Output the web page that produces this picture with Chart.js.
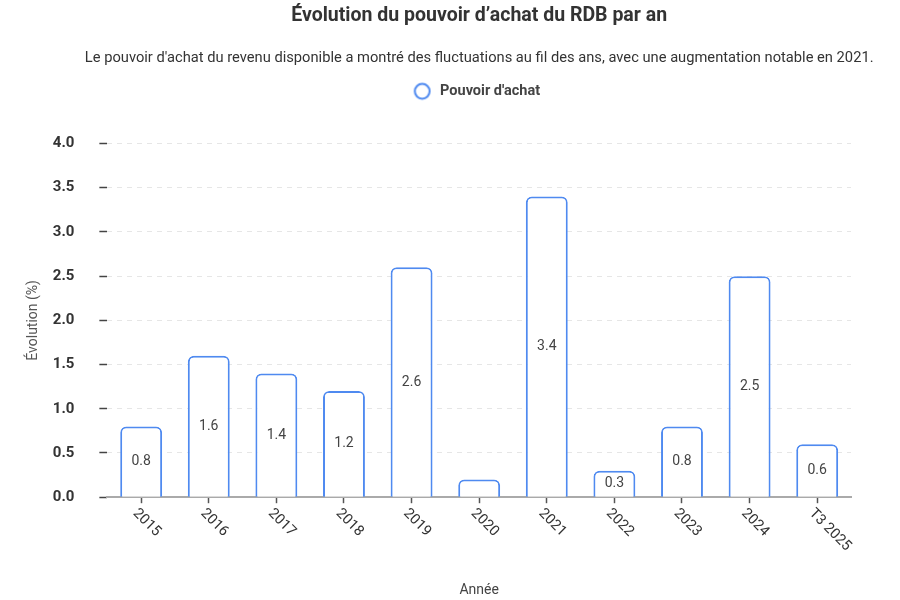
<!DOCTYPE html>
<html>
<head>
<meta charset="utf-8">
<script src="https://cdn.jsdelivr.net/npm/chart.js@4.4.1/dist/chart.umd.min.js"></script>
<style>
  html, body { margin: 0; padding: 0; background: #fff; }
  #wrap { width: 900px; height: 600px; }
</style>
</head>
<body>
<div id="wrap"><canvas id="rdbChart"></canvas></div>
<script>
const years = ['2015', '2016', '2017', '2018', '2019', '2020', '2021', '2022', '2023', '2024', 'T3 2025'];
const pouvoirAchat = [0.8, 1.6, 1.4, 1.2, 2.6, 0.2, 3.4, 0.3, 0.8, 2.5, 0.6];
const yTicks = [0, 0.5, 1, 1.5, 2, 2.5, 3, 3.5, 4];

const TITLE = 'Évolution du pouvoir d’achat du RDB par an';
const SUBTITLE = "Le pouvoir d'achat du revenu disponible a montré des fluctuations au fil des ans, avec une augmentation notable en 2021.";

const BLUE = '#4f8af0';
const TEXT = '#333';

// legend marker: hollow circle, drawn a little left of centre for a wider gap before the text
const legendDot = document.createElement('canvas');
legendDot.width = 30;
legendDot.height = 20;
(() => {
    const c = legendDot.getContext('2d');
    c.strokeStyle = BLUE;
    c.lineWidth = 2;
    c.fillStyle = '#fff';
    c.beginPath();
    c.arc(11.6, 10, 7.4, 0, Math.PI * 2);
    c.fill();
    c.stroke();
})();

// space between legend and plot
const legendGap = {
    id: 'legendGap',
    beforeInit(chart) {
        const fit = chart.legend.fit;
        chart.legend.fit = function () {
            fit.call(this);
            this.height += 35;
        };
    }
};

// centre title + subtitle over the plot area instead of the canvas
const centerHeaders = {
    id: 'centerHeaders',
    afterLayout(chart) {
        const { left, right } = chart.chartArea;
        const cx = (left + right) / 2;
        chart.boxes.forEach(box => {
            if (box.options && (box.options.text === TITLE || box.options.text === SUBTITLE)) {
                const half = chart.width / 2;
                box.left = cx - half;
                box.right = cx + half;
            }
        });
    }
};

// values in the middle of each bar
const barValues = {
    id: 'barValues',
    afterDatasetsDraw(chart) {
        const { ctx } = chart;
        const meta = chart.getDatasetMeta(0);
        ctx.save();
        ctx.font = '14px Roboto';
        ctx.fillStyle = '#444';
        ctx.textAlign = 'center';
        ctx.textBaseline = 'middle';
        meta.data.forEach((bar, i) => {
            const v = pouvoirAchat[i];
            if (v < 0.3) return;
            ctx.fillText(v.toFixed(1), bar.x, (bar.y + bar.base) / 2);
        });
        ctx.restore();
    }
};

// x labels turned clockwise, starting at the tick
const slantedLabels = {
    id: 'slantedLabels',
    afterDraw(chart) {
        const { ctx } = chart;
        const x = chart.scales.x;
        ctx.save();
        ctx.font = '14.5px Roboto';
        ctx.fillStyle = TEXT;
        ctx.textAlign = 'left';
        ctx.textBaseline = 'middle';
        years.forEach((label, i) => {
            const px = x.getPixelForTick(i);
            ctx.save();
            ctx.translate(px - 6, x.top + 14);
            ctx.rotate(Math.PI / 4);
            ctx.fillText(label, 0, 0);
            ctx.restore();
        });
        ctx.restore();
    }
};

const ctx = document.getElementById('rdbChart').getContext('2d');
new Chart(ctx, {
    type: 'bar',
    data: {
        labels: years,
        datasets: [{
            label: "Pouvoir d'achat",
            data: pouvoirAchat,
            backgroundColor: '#fff',
            borderColor: BLUE,
            borderWidth: 2,
            borderRadius: 6,
            borderSkipped: 'bottom',
            barPercentage: 0.62,
            categoryPercentage: 1
        }]
    },
    options: {
        responsive: true,
        maintainAspectRatio: false,
        animation: false,
        layout: { padding: { left: 21, right: 49, bottom: 0 } },
        plugins: {
            title: {
                display: true,
                text: TITLE,
                color: TEXT,
                font: { family: 'Roboto', size: 19.5, weight: 'bold' },
                padding: { top: 4, bottom: 10 }
            },
            subtitle: {
                display: true,
                text: SUBTITLE,
                color: TEXT,
                font: { family: 'Roboto', size: 14.7 },
                padding: { top: 12, bottom: 7 }
            },
            legend: {
                position: 'top',
                fullSize: false,
                labels: {
                    usePointStyle: true,
                    pointStyle: legendDot,
                    boxHeight: 11.5,
                    color: '#444',
                    font: { family: 'Roboto', size: 14.5, weight: 'bold' }
                }
            },
            tooltip: { enabled: false }
        },
        scales: {
            x: {
                grid: {
                    offset: false,
                    drawOnChartArea: false,
                    tickLength: 6,
                    tickColor: '#555',
                    tickWidth: 1.5
                },
                border: { color: '#aaa', width: 2 },
                ticks: { display: false, autoSkip: false },
                title: {
                    display: true,
                    text: 'Année',
                    color: '#444',
                    font: { family: 'Roboto', size: 14 },
                    padding: { top: 79, bottom: 1 }
                }
            },
            y: {
                min: 0,
                max: 4,
                afterBuildTicks(axis) {
                    axis.ticks = yTicks.map(v => ({ value: v }));
                },
                grid: {
                    color: '#e6e6e6',
                    tickColor: '#444',
                    tickLength: 8,
                    tickWidth: 1.5,
                    tickBorderDash: []
                },
                border: { display: false, dash: [5, 5] },
                ticks: {
                    color: TEXT,
                    padding: 25,
                    font: { family: 'Roboto', size: 15, weight: 'bold' },
                    callback: value => value.toFixed(1)
                },
                title: {
                    display: true,
                    text: 'Évolution (%)',
                    color: '#555',
                    font: { family: 'Roboto', size: 14 },
                    // tick padding is counted twice in the axis width, take it back here
                    padding: { top: 4, bottom: -14 }
                }
            }
        }
    },
    plugins: [legendGap, centerHeaders, barValues, slantedLabels]
});
</script>
</body>
</html>
